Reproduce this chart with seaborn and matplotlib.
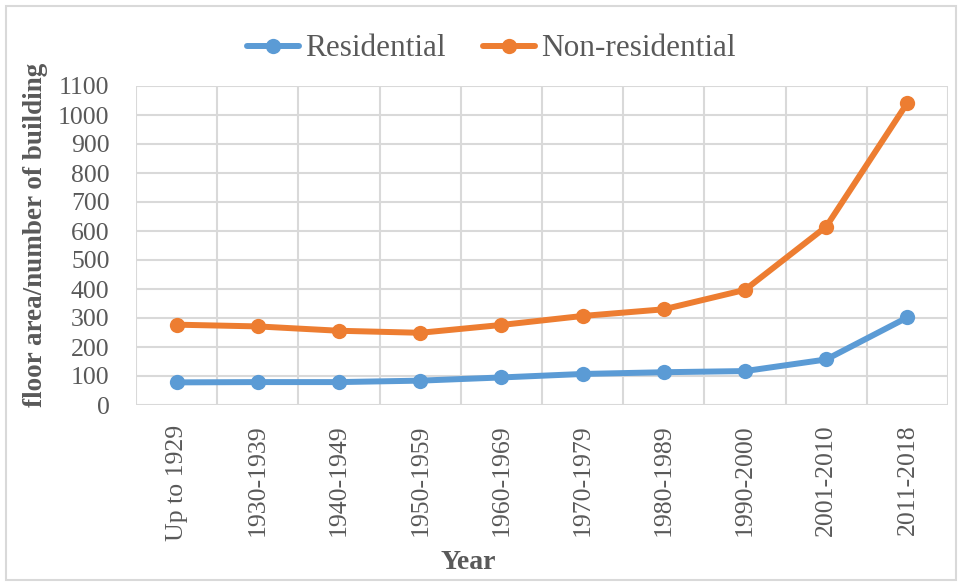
import matplotlib
matplotlib.use("Agg")
import matplotlib.pyplot as plt
import matplotlib.patches as mpatches
from matplotlib.ticker import MultipleLocator, FixedLocator
import pandas as pd
import seaborn as sns

periods = ["Up to 1929", "1930-1939", "1940-1949", "1950-1959", "1960-1969",
           "1970-1979", "1980-1989", "1990-2000", "2001-2010", "2011-2018"]
residential = [78, 79, 79, 84, 95, 107, 113, 117, 157, 302]
non_residential = [277, 271, 256, 249, 276, 307, 330, 397, 615, 1042]

series_names = ["Residential", "Non-residential"]
series_colors = ["#5B9BD5", "#ED7D31"]

df = pd.DataFrame({
    "Year": periods * 2,
    "value": residential + non_residential,
    "series": [series_names[0]] * len(periods) + [series_names[1]] * len(periods),
})

sns.set_style("white")
plt.rcParams["font.family"] = ["Liberation Serif", "DejaVu Serif"]

text_color = "#595959"
grid_color = "#d9d9d9"

fig = plt.figure(figsize=(9.6, 5.84), dpi=100)
ax = fig.add_axes([136 / 960, 1 - 405 / 584, 812 / 960, 319 / 584])

sns.lineplot(data=df, x="Year", y="value", hue="series", hue_order=series_names,
             palette=series_colors, marker="o", markersize=11, markeredgewidth=0,
             linewidth=4.3, sort=False, ax=ax, zorder=3)

ax.set_ylim(0, 1100)
ax.set_xlim(-0.5, len(periods) - 0.5)
ax.yaxis.set_major_locator(MultipleLocator(100))

# category boundary gridlines
ax.xaxis.set_minor_locator(FixedLocator([i - 0.5 for i in range(len(periods) + 1)]))
ax.grid(False)
ax.grid(True, which="minor", axis="x", color=grid_color, linewidth=1.5)
ax.grid(True, which="major", axis="y", color=grid_color, linewidth=1.5)
ax.set_axisbelow(True)
for s in ax.spines.values():
    s.set_visible(False)

ax.tick_params(axis="both", which="both", length=0, colors=text_color, labelsize=18.5)
ax.tick_params(axis="x", pad=14, labelrotation=90)
ax.tick_params(axis="y", pad=19)

ax.set_xlabel("Year", fontsize=20, fontweight="bold", color=text_color)
ax.xaxis.set_label_coords(0.409, -0.455)
ax.set_ylabel("floor area/number of building", fontsize=19.5, fontweight="bold",
              color=text_color)
ax.yaxis.set_label_coords(-0.108, 0.533)

leg = ax.legend(loc="center", bbox_to_anchor=(0.438, 1 + 37 / 319), ncol=2,
                frameon=False, fontsize=22.5, handlelength=1.65, handletextpad=0.2,
                columnspacing=1.2)
for t in leg.get_texts():
    t.set_color(text_color)
for h in leg.legend_handles:
    h.set_linewidth(4.3)
    h.set_markersize(11)

fig.patches.append(mpatches.Rectangle((6 / 960, 4 / 584), 950 / 960, 574 / 584,
                                      transform=fig.transFigure, fill=False,
                                      edgecolor=grid_color, linewidth=1.5))

fig.savefig("out.png", dpi=100, facecolor="white")
